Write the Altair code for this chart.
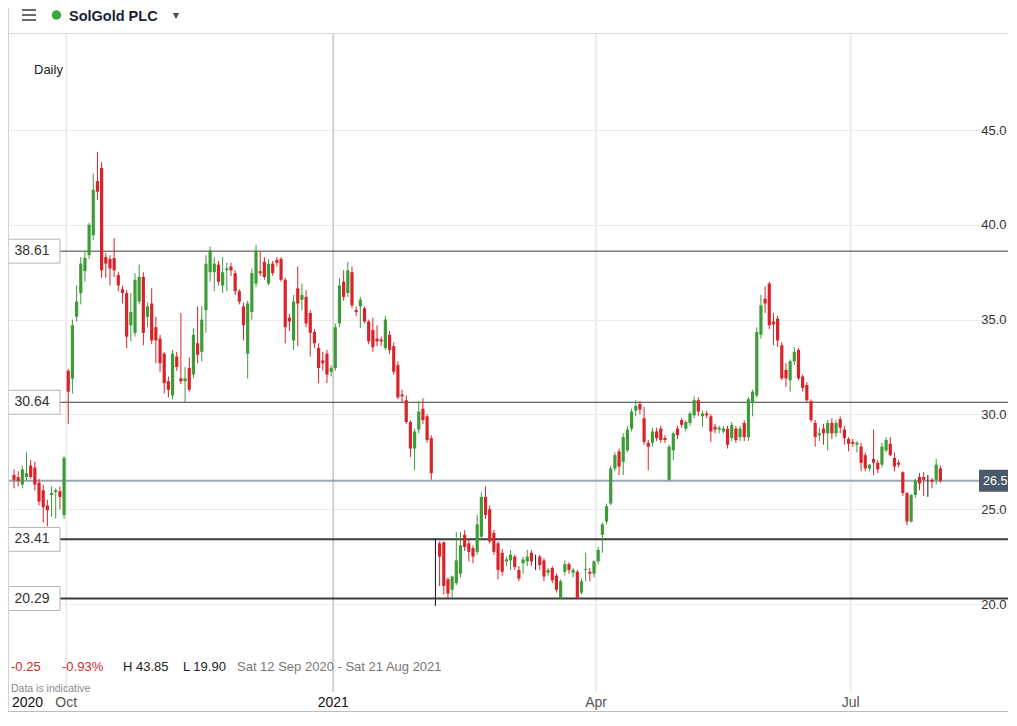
import altair as alt
import pandas as pd

# ---------------- data ----------------
opens = [26.8, 26.7, 26.3, 26.7, 27.3, 27.2, 26.4, 26.0, 25.2, 25.75, 25.9, 25.95, 24.7,
         32.3, 31.9, 35.15, 36.4, 37.55, 38.4, 39.45, 42.3, 43.0, 38.3, 38.2, 38.25, 37.35,
         36.6, 36.4, 34.7, 34.3, 35.95, 37.25, 35.15, 35.85, 34.6, 34.0, 33.2, 31.75, 31.0, 33.05, 31.9,
         31.75, 32.45, 32.1, 33.75, 33.3, 35.5, 37.5, 37.5, 37.9, 36.8, 37.6, 37.8, 37.45, 36.5, 35.7,
         33.2, 35.4, 36.9, 37.55, 38.05, 36.9, 37.95, 38.15, 38.2, 37.1, 35.1, 33.9, 36.65, 36.05, 36.2,
         35.35, 34.35, 33.5, 32.85, 33.2, 32.25, 32.45, 34.8, 37.0, 36.4, 37.5, 35.5, 35.7, 35.6, 34.9,
         34.45, 34.0, 33.95, 33.5, 34.2, 33.6, 32.6, 31.05, 30.75, 29.6, 28.2, 29.2, 30.3, 29.9, 28.75,
         22.75, 23.2, 23.25, 21.3, 20.75, 21.1, 21.6, 23.65, 23.2, 22.95, 22.75, 23.55, 25.65, 25.0, 23.75,
         23.2, 22.7, 22.25, 22.3, 22.5, 21.8, 22.15, 22.25, 22.7, 22.35, 22.5, 22.3, 21.65, 21.9, 21.5,
         20.3, 21.7, 22.1, 21.65, 21.7, 20.6, 21.8, 21.7, 21.6, 22.25, 23.65, 24.35, 25.3, 27.15, 28.05,
         27.5, 28.1, 29.25, 30.2, 30.55, 29.8, 28.5, 28.5, 29.1, 29.25, 28.75, 26.55, 28.1, 29.25, 29.7,
         29.25, 29.55, 29.95, 30.75, 29.9, 30.05, 29.9, 29.35, 29.2, 29.1, 29.25, 28.75, 29.25, 28.8, 29.55,
         28.8, 30.6, 31.0, 34.2, 36.1, 36.9, 34.9, 35.05, 33.65, 32.35, 31.8, 32.8, 33.4, 32.0, 31.55,
         30.7, 29.55, 28.9, 29.25, 29.0, 29.55, 29.0, 29.75, 29.2, 28.7, 28.55, 28.4, 28.3, 27.85, 27.15,
         27.65, 27.45, 27.35, 28.1, 28.45, 27.7, 27.45, 26.95, 25.85, 24.35, 25.75, 26.7, 26.7, 26.55, 26.55,
         26.55, 27.15]
highs = [27.1, 27.0, 27.3, 28.0, 27.6, 27.5, 26.6, 26.3, 25.5, 26.2, 26.1, 26.2, 27.8,
         32.4, 35.0, 36.8, 38.3, 38.6, 40.1, 42.7, 43.85, 43.3, 38.5, 38.4, 39.3, 37.5,
         36.8, 36.55, 36.4, 37.45, 37.9, 37.5, 35.9, 36.65, 35.15, 34.2, 33.3, 32.0, 33.4, 33.3, 35.35,
         32.5, 33.0, 34.55, 35.7, 35.7, 38.4, 38.85, 38.3, 38.1, 38.3, 38.0, 38.0, 37.6, 36.6, 35.9,
         36.0, 37.7, 38.95, 38.6, 38.3, 38.2, 38.1, 38.3, 38.3, 37.2, 35.3, 36.3, 37.8, 36.9, 36.55,
         35.5, 34.5, 33.75, 33.3, 33.4, 32.6, 34.8, 37.2, 37.6, 38.05, 37.8, 35.7, 36.2, 35.7, 35.0,
         35.1, 34.7, 34.1, 35.2, 34.4, 33.8, 32.8, 31.3, 31.0, 29.7, 29.25, 30.7, 30.85, 30.0, 28.9,
         23.45, 23.3, 23.3, 21.4, 21.5, 23.8, 23.8, 23.9, 23.4, 23.1, 24.7, 25.9, 26.2, 25.2, 23.9,
         23.3, 22.9, 22.5, 22.85, 22.6, 22.0, 22.5, 22.85, 22.85, 22.6, 22.6, 22.4, 21.9, 22.0, 21.6,
         21.3, 22.3, 22.2, 21.9, 21.8, 21.35, 22.7, 21.9, 22.3, 23.0, 24.3, 25.3, 27.3, 28.0, 28.2,
         29.0, 29.4, 30.3, 30.75, 30.7, 30.4, 28.65, 29.3, 29.3, 29.4, 28.9, 28.4, 29.1, 29.4, 29.8,
         29.7, 30.15, 30.95, 30.9, 30.2, 30.2, 30.0, 29.5, 29.4, 29.4, 29.4, 29.6, 29.4, 29.4, 29.7,
         30.9, 31.3, 34.6, 36.3, 36.75, 37.0, 35.35, 35.2, 33.8, 32.7, 32.9, 33.55, 33.5, 32.1, 31.7,
         30.8, 29.7, 29.3, 29.5, 29.7, 29.8, 29.7, 29.9, 29.4, 28.8, 28.7, 28.6, 28.5, 28.0, 27.4,
         29.2, 27.6, 28.5, 28.8, 28.8, 28.0, 27.6, 27.0, 25.9, 25.8, 26.6, 26.9, 26.95, 26.8, 26.65,
         27.65, 27.3]
lows = [26.1, 26.2, 26.1, 26.5, 26.6, 26.0, 25.2, 24.3, 24.1, 24.6, 24.5, 25.0, 24.5,
        29.5, 31.1, 34.9, 35.8, 37.0, 38.2, 39.2, 41.3, 37.2, 37.2, 36.8, 37.25, 36.5,
        35.85, 33.5, 33.85, 34.1, 35.8, 33.65, 34.6, 33.7, 32.7, 32.25, 31.1, 30.9, 30.8, 32.3, 31.6,
        30.65, 31.2, 31.9, 32.7, 32.8, 34.3, 37.0, 36.5, 36.8, 36.4, 36.5, 37.3, 36.3, 35.8, 33.9,
        31.9, 35.0, 36.7, 37.3, 37.1, 36.8, 37.3, 37.8, 37.0, 33.75, 34.4, 33.4, 33.6, 35.5, 34.6,
        33.05, 33.5, 31.65, 32.3, 31.65, 32.0, 32.3, 34.6, 36.0, 36.2, 35.6, 35.2, 34.55, 34.8, 33.7,
        33.3, 33.6, 33.6, 33.4, 33.2, 32.1, 30.8, 30.6, 29.5, 27.75, 27.05, 29.0, 29.5, 28.5, 26.55,
        19.9, 20.95, 20.5, 20.3, 20.3, 21.0, 21.4, 22.8, 22.25, 22.15, 22.6, 23.4, 24.5, 23.2, 22.6,
        21.3, 21.5, 22.0, 21.8, 21.8, 21.2, 21.6, 22.0, 22.0, 21.8, 21.8, 21.2, 21.5, 21.1, 20.6,
        20.25, 21.5, 21.6, 21.4, 20.25, 20.5, 21.2, 21.2, 21.4, 22.1, 22.7, 24.2, 25.2, 27.0, 26.8,
        26.8, 28.0, 29.1, 29.9, 30.0, 28.4, 27.05, 28.3, 28.6, 28.5, 28.5, 26.5, 27.6, 28.7, 29.3,
        29.1, 29.4, 29.8, 29.9, 29.35, 29.8, 28.55, 29.0, 29.0, 29.0, 28.2, 28.6, 28.5, 28.6, 28.6,
        28.6, 29.9, 30.9, 34.0, 35.35, 34.5, 33.65, 33.55, 31.8, 31.45, 31.2, 32.6, 31.8, 31.2, 30.6,
        29.6, 28.3, 28.6, 28.4, 28.1, 28.7, 28.8, 29.0, 28.4, 28.05, 28.3, 28.0, 27.0, 27.0, 27.0,
        26.8, 26.9, 27.2, 28.0, 27.8, 27.0, 27.2, 25.7, 24.15, 24.3, 25.6, 26.0, 25.7, 25.65, 26.1,
        26.3, 26.4]
closes = [26.55, 26.5, 27.1, 26.9, 26.7, 26.3, 25.4, 25.1, 24.95, 25.85, 26.0, 25.65, 27.7,
          31.2, 34.7, 35.95, 37.95, 38.25, 40.0, 41.85, 41.75, 37.6, 37.95, 37.7, 37.6, 36.8,
          36.4, 34.1, 35.4, 37.1, 37.25, 34.3, 35.7, 33.9, 33.9, 32.7, 31.65, 31.3, 33.2, 32.5, 31.75,
          31.9, 31.3, 34.2, 33.15, 35.0, 37.95, 38.65, 37.95, 37.0, 37.5, 37.7, 37.6, 36.5, 35.95, 34.7,
          35.85, 37.45, 38.65, 37.45, 37.25, 37.95, 37.45, 38.0, 37.1, 34.6, 34.9, 35.95, 35.85, 36.3, 34.8,
          34.3, 33.75, 32.45, 32.7, 32.1, 32.45, 34.6, 36.8, 36.2, 37.6, 35.75, 35.4, 36.05, 34.9, 33.85,
          33.55, 33.85, 33.85, 35.0, 33.4, 32.25, 30.9, 30.95, 29.6, 28.2, 29.1, 30.15, 29.7, 28.65, 26.9,
          22.75, 22.5, 20.95, 20.55, 21.45, 22.3, 23.1, 23.0, 22.75, 22.5, 24.2, 25.65, 24.7, 23.3, 22.75,
          21.8, 21.7, 22.35, 22.6, 21.95, 21.35, 22.35, 22.5, 22.25, 22.35, 22.05, 21.45, 21.8, 21.25, 20.75,
          21.2, 22.1, 21.8, 21.8, 20.3, 21.2, 21.85, 21.6, 22.25, 22.85, 24.2, 25.15, 27.15, 27.85, 27.25,
          28.8, 29.2, 30.15, 30.45, 30.25, 28.55, 28.3, 29.1, 28.75, 28.65, 28.65, 28.3, 29.0, 28.9, 29.45,
          29.6, 30.05, 30.75, 30.15, 30.05, 29.95, 29.1, 29.2, 29.3, 29.25, 28.4, 29.45, 28.65, 29.25, 28.8,
          30.8, 31.2, 34.35, 35.75, 35.85, 34.7, 34.75, 33.9, 31.9, 31.9, 32.8, 33.3, 31.9, 31.4, 30.75,
          29.7, 28.8, 29.0, 29.0, 29.55, 29.0, 29.55, 29.3, 28.75, 28.45, 28.45, 28.5, 27.45, 27.15, 27.35,
          27.45, 27.1, 28.3, 28.65, 27.85, 27.25, 27.35, 25.85, 24.35, 25.75, 26.5, 26.35, 26.55, 26.55, 26.45,
          27.35, 26.5]

month_tick_index = [12.5, 76.5, 139.5, 200.5]
month_tick_label = ["Oct", "2021", "Apr", "Jul"]
first_year_label = "2020"
price_ticks = [20, 25, 30, 35, 40, 45]
level_values = [38.61, 30.64, 23.41, 20.29]
level_labels = ["38.61", "30.64", "23.41", "20.29"]
last_price = 26.5
last_price_label = "26.5"
instrument = "SolGold PLC"
interval_name = "Daily"
change_abs = "-0.25"
change_pct = "-0.93%"
high_text = "H 43.85"
low_text = "L 19.90"
range_text = "Sat 12 Sep 2020 - Sat 21 Aug 2021"
note_text = "Data is indicative"

# ---------------- styling ----------------
W, H = 1000, 704
GREEN, RED, FLAT = "#3d9c38", "#d8232a", "#111111"
FONT = "Liberation Sans"

candles = pd.DataFrame({"i": list(range(len(opens))), "open": opens, "high": highs,
                        "low": lows, "close": closes})
months = pd.DataFrame({"idx": month_tick_index, "lab": month_tick_label})
levels = pd.DataFrame({"v": level_values, "lab": level_labels})
lastdf = pd.DataFrame({"v": [last_price], "lab": [last_price_label]})
one = pd.DataFrame({"a": [0]})

XS = alt.Scale(domain=[-0.2372, 237.01], nice=False, zero=False)
YS = alt.Scale(domain=[14.304, 51.435], nice=False, zero=False)
yaxis = alt.Axis(orient="right", values=price_ticks, format=".1f", labelPadding=-2,
                 labelAlign="right", labelBaseline="middle", ticks=False, domain=False,
                 grid=True, gridColor="#ebebeb", gridWidth=1, labelFontSize=13,
                 labelColor="#333333", labelFont=FONT, title=None, labelFlush=False)


def X(f):
    return alt.X(f, scale=XS, axis=None)


def Y(f):
    return alt.Y(f, scale=YS, axis=yaxis)


def txt(text, x, y, size=13, color="#222", weight="normal", align="left"):
    return alt.Chart(one).mark_text(text=text, fontSize=size, color=color, font=FONT,
                                    fontWeight=weight, align=align, baseline="middle").encode(
        x=alt.value(x), y=alt.value(y))


def hrule(y, x1, x2, color, w=1):
    return alt.Chart(one).mark_rule(color=color, strokeWidth=w).encode(
        x=alt.value(x1), x2=alt.value(x2), y=alt.value(y))


candle_base = alt.Chart(candles).transform_calculate(
    dir="datum.close > datum.open ? 'up' : (datum.close < datum.open ? 'down' : 'flat')")
ccolor = alt.Color("dir:N", scale=alt.Scale(domain=["up", "down", "flat"], range=[GREEN, RED, FLAT]),
                   legend=None)

wicks = candle_base.mark_rule(strokeWidth=1).encode(x=X("i:Q"), y=Y("low:Q"), y2="high:Q", color=ccolor)
bodies = candle_base.mark_bar(width=3.2).encode(x=X("i:Q"), y=Y("open:Q"), y2="close:Q", color=ccolor)

vgrid = alt.Chart(months).mark_rule(strokeWidth=2).encode(
    x=X("idx:Q"), y=alt.value(26), y2=alt.value(684),
    color=alt.condition("datum.lab == '2021'", alt.value("#d0d0d0"), alt.value("#ececec")))

month_text = alt.Chart(months).mark_text(fontSize=14, font=FONT, baseline="middle", align="center").encode(
    x=X("idx:Q"), y=alt.value(695), text="lab:N",
    color=alt.condition("datum.lab == '2021'", alt.value("#111111"), alt.value("#555555")))

last_line = alt.Chart(lastdf).mark_rule(color="#9ba7b4", strokeWidth=2).encode(
    y=Y("v:Q"), x=alt.value(0), x2=alt.value(972))
last_box = alt.Chart(lastdf).transform_calculate(lo="datum.v - 0.58", hi="datum.v + 0.58").mark_rect(
    color="#4b586b").encode(y=Y("lo:Q"), y2="hi:Q", x=alt.value(971), x2=alt.value(1000))
last_text = alt.Chart(lastdf).mark_text(color="white", fontSize=12.5, font=FONT, align="left",
                                        baseline="middle").encode(y=Y("v:Q"), x=alt.value(975), text="lab:N")

level_lines = alt.Chart(levels).mark_rule(color="#3c3c3c").encode(
    y=Y("v:Q"), x=alt.value(52), x2=alt.value(1000),
    strokeWidth=alt.condition("datum.v < 25", alt.value(2), alt.value(1)))
level_box = alt.Chart(levels).transform_calculate(lo="datum.v - 0.63", hi="datum.v + 0.63").mark_rect(
    fill="white", stroke="#b4b4b4", strokeWidth=1).encode(
    y=Y("lo:Q"), y2="hi:Q", x=alt.value(0.5), x2=alt.value(52))
level_text = alt.Chart(levels).mark_text(fontSize=14, font=FONT, color="#333333", align="center",
                                         baseline="middle").encode(y=Y("v:Q"), x=alt.value(24), text="lab:N")

# header
header = [
    hrule(2, 14, 28, "#6a6a6a", 2), hrule(7, 14, 28, "#6a6a6a", 2), hrule(12, 14, 28, "#6a6a6a", 2),
    alt.Chart(one).mark_point(filled=True, size=90, color="#3aa83a", opacity=1).encode(
        x=alt.value(48.5), y=alt.value(7)),
    txt(instrument, 61, 8.5, size=14.5, color="#1b2233", weight="bold"),
    alt.Chart(one).mark_point(filled=True, shape="triangle-down", size=45, color="#555555", opacity=1).encode(
        x=alt.value(168), y=alt.value(8)),
    hrule(25.5, 0, 1000, "#d6d6d6", 1),
]

left_border = alt.Chart(one).mark_rule(color="#d2d2d2", strokeWidth=1).encode(
    x=alt.value(0.5), y=alt.value(0), y2=alt.value(704))

footer = [
    txt(interval_name, 26, 62, size=13, color="#222222"),
    txt(change_abs, 3, 659, color="#cf2b2b"),
    txt(change_pct, 54, 659, color="#cf2b2b"),
    txt(high_text, 115, 659, color="#222222"),
    txt(low_text, 175, 659, color="#222222"),
    txt(range_text, 229, 659, color="#777777"),
    txt(note_text, 3, 681, size=10.5, color="#8a8a8a"),
    txt(first_year_label, 4, 695, size=14, color="#111111"),
    hrule(703.5, 0, 1000, "#bdbdbd", 1),
]

chart = alt.layer(
    vgrid, last_line, level_lines, wicks, bodies, level_box, level_text,
    last_box, last_text, month_text, left_border, *header, *footer
).properties(width=W, height=H, autosize=alt.AutoSizeParams(type="none"), padding=0,
             background="white").configure_view(stroke=None)

chart.save("out.html", embed_options={"renderer": "svg", "actions": False})
